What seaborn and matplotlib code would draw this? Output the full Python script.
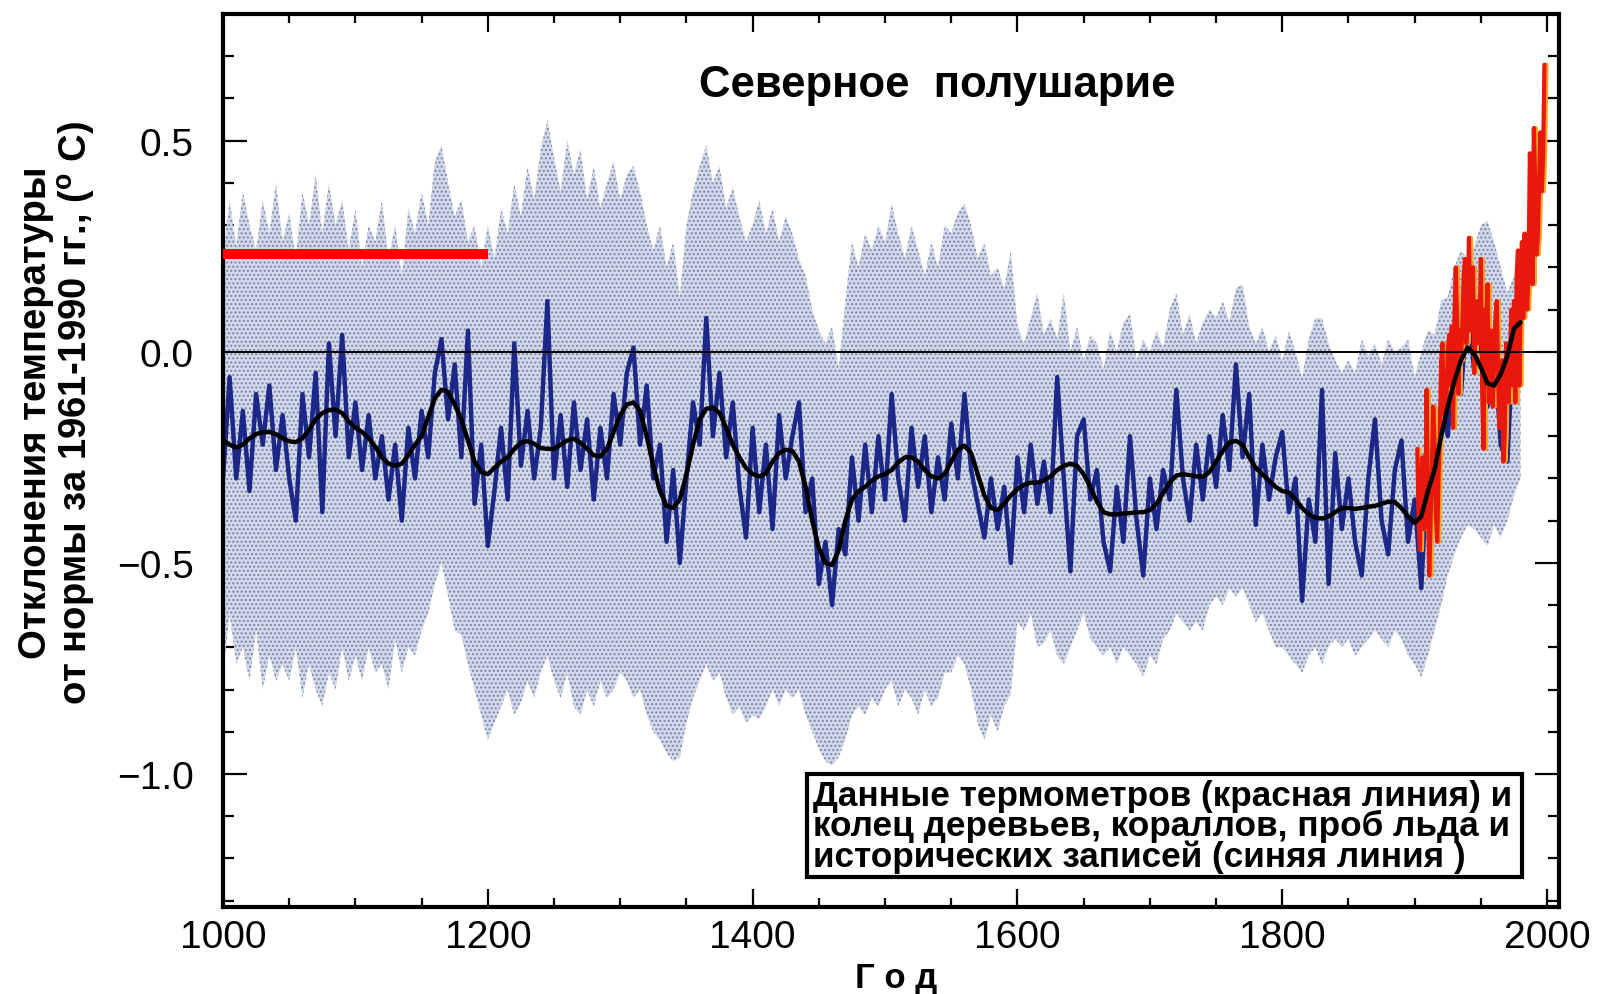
import numpy as np
import pandas as pd
import matplotlib
matplotlib.use("Agg")
import matplotlib.pyplot as plt
import matplotlib.patches as mpatches
import matplotlib.transforms as mtransforms
from matplotlib.ticker import MultipleLocator
import seaborn as sns

# --- данные (читаются с рисунка) ---
# реконструкция, шаг 5 лет, 1000..1980
years5 = np.arange(1000, 1981, 5)

blue = [
    -0.30, -0.06, -0.30, -0.14, -0.33, -0.10, -0.22, -0.08, -0.28, -0.15,
    -0.30, -0.40, -0.10, -0.25, -0.05, -0.38, 0.02, -0.20, 0.04, -0.25,
    -0.12, -0.28, -0.15, -0.30, -0.20, -0.35, -0.22, -0.40, -0.18, -0.30,
    -0.14, -0.25, -0.05, 0.03, -0.16, -0.03, -0.25, 0.05, -0.36, -0.22,
    -0.46, -0.33, -0.18, -0.35, 0.02, -0.27, -0.14, -0.30, -0.18, 0.12,
    -0.30, -0.15, -0.32, -0.12, -0.28, -0.16, -0.35, -0.18, -0.30, -0.10,
    -0.22, -0.05, 0.01, -0.22, -0.08, -0.30, -0.22, -0.45, -0.28, -0.50,
    -0.30, -0.12, -0.22, 0.08, -0.20, -0.05, -0.25, -0.12, -0.32, -0.44,
    -0.18, -0.38, -0.22, -0.42, -0.15, -0.30, -0.20, -0.12, -0.38, -0.30,
    -0.55, -0.45, -0.60, -0.42, -0.48, -0.25, -0.40, -0.22, -0.38, -0.20,
    -0.35, -0.10, -0.30, -0.40, -0.18, -0.32, -0.20, -0.38, -0.25, -0.35,
    -0.17, -0.30, -0.10, -0.28, -0.36, -0.44, -0.30, -0.42, -0.32, -0.50,
    -0.25, -0.38, -0.22, -0.36, -0.26, -0.38, -0.06, -0.30, -0.52, -0.20,
    -0.16, -0.35, -0.28, -0.45, -0.52, -0.32, -0.45, -0.20, -0.40, -0.53,
    -0.30, -0.42, -0.28, -0.35, -0.09, -0.30, -0.40, -0.22, -0.35, -0.20,
    -0.32, -0.15, -0.28, -0.03, -0.25, -0.10, -0.41, -0.22, -0.35, -0.25,
    -0.19, -0.38, -0.30, -0.59, -0.35, -0.45, -0.09, -0.55, -0.24, -0.42,
    -0.30, -0.45, -0.53, -0.30, -0.16, -0.40, -0.48, -0.28, -0.21, -0.45,
    -0.35, -0.56, -0.25, -0.40, -0.12, -0.20, 0.04, -0.10, 0.13, -0.05,
    0.05, -0.13, 0.02, -0.22, -0.26, 0.07, -0.05,
]

smooth = [
    -0.21, -0.22, -0.227, -0.22, -0.205, -0.195, -0.19, -0.19, -0.195, -0.205,
    -0.212, -0.214, -0.205, -0.185, -0.16, -0.145, -0.138, -0.137, -0.145, -0.165,
    -0.18, -0.19, -0.205, -0.225, -0.25, -0.265, -0.27, -0.265, -0.245, -0.22,
    -0.2, -0.155, -0.11, -0.09, -0.095, -0.125, -0.16, -0.21, -0.26, -0.285,
    -0.29, -0.275, -0.26, -0.25, -0.23, -0.215, -0.212, -0.218, -0.228, -0.23,
    -0.23, -0.22, -0.21, -0.206, -0.215, -0.23, -0.245, -0.248, -0.23, -0.19,
    -0.15, -0.125, -0.12, -0.14, -0.2, -0.27, -0.33, -0.365, -0.37, -0.35,
    -0.29, -0.22, -0.16, -0.135, -0.132, -0.145, -0.18, -0.22, -0.25, -0.275,
    -0.29, -0.295, -0.288, -0.26, -0.24, -0.232, -0.235, -0.26, -0.32, -0.4,
    -0.465, -0.5, -0.505, -0.47, -0.4, -0.35, -0.33, -0.32, -0.305, -0.295,
    -0.29, -0.28, -0.262, -0.25, -0.25, -0.26, -0.28, -0.295, -0.3, -0.29,
    -0.26, -0.232, -0.222, -0.24, -0.29, -0.34, -0.37, -0.375, -0.36, -0.34,
    -0.325, -0.315, -0.31, -0.31, -0.305, -0.295, -0.28, -0.27, -0.265, -0.27,
    -0.29, -0.32, -0.355, -0.38, -0.385, -0.385, -0.383, -0.382, -0.38, -0.38,
    -0.375, -0.36, -0.335, -0.31, -0.293, -0.29, -0.292, -0.295, -0.296, -0.285,
    -0.26, -0.235, -0.215, -0.211, -0.22, -0.25, -0.275, -0.29, -0.305, -0.32,
    -0.33, -0.333, -0.35, -0.37, -0.385, -0.393, -0.395, -0.39, -0.38, -0.37,
    -0.37, -0.372, -0.37, -0.367, -0.365, -0.36, -0.355, -0.356, -0.37, -0.39,
    -0.405, -0.39, -0.33, -0.28, -0.2, -0.13, -0.07, -0.02, 0.01, -0.005,
    -0.037, -0.075, -0.08, -0.053, -0.01, 0.055, 0.07,
]

upper = [
    0.22, 0.36, 0.25, 0.38, 0.30, 0.24, 0.36, 0.28, 0.40, 0.26,
    0.33, 0.22, 0.38, 0.30, 0.42, 0.28, 0.40, 0.30, 0.36, 0.24,
    0.34, 0.20, 0.30, 0.26, 0.36, 0.22, 0.30, 0.18, 0.34, 0.28,
    0.38, 0.30, 0.45, 0.49, 0.40, 0.32, 0.36, 0.26, 0.30, 0.20,
    0.30, 0.22, 0.34, 0.28, 0.40, 0.32, 0.44, 0.36, 0.48, 0.55,
    0.46, 0.38, 0.50, 0.42, 0.48, 0.36, 0.44, 0.34, 0.40, 0.45,
    0.36, 0.42, 0.44, 0.38, 0.30, 0.24, 0.30, 0.20, 0.26, 0.13,
    0.30, 0.38, 0.44, 0.49, 0.40, 0.44, 0.34, 0.39, 0.32, 0.26,
    0.30, 0.36, 0.28, 0.34, 0.26, 0.32, 0.28, 0.22, 0.18, 0.10,
    0.05, 0.02, 0.06, -0.04, 0.12, 0.26, 0.20, 0.28, 0.24, 0.30,
    0.26, 0.35, 0.28, 0.22, 0.30, 0.24, 0.18, 0.26, 0.20, 0.30,
    0.28, 0.33, 0.35, 0.30, 0.22, 0.26, 0.18, 0.20, 0.15, 0.24,
    0.06, 0.02, 0.08, 0.14, 0.04, 0.08, 0.03, 0.14, 0.00, 0.06,
    -0.02, 0.04, 0.02, -0.04, 0.05, 0.00, 0.07, 0.09, -0.02, 0.03,
    0.00, 0.05, 0.01, 0.10, 0.14, 0.04, 0.09, 0.02, 0.07, 0.10,
    0.08, 0.12, 0.07, 0.15, 0.16, 0.06, 0.02, 0.06, 0.00, 0.04,
    -0.02, 0.05, 0.00, -0.06, 0.03, 0.08, 0.08, 0.02, -0.02, -0.05,
    -0.02, -0.05, 0.03, -0.01, 0.02, -0.03, 0.03, 0.00, 0.01, 0.03,
    -0.06, 0.00, 0.05, 0.04, 0.12, 0.13, 0.20, 0.24, 0.22, 0.25,
    0.30, 0.31, 0.26, 0.20, 0.14, 0.18, 0.10,
]

lower = [
    -0.76, -0.62, -0.74, -0.70, -0.78, -0.66, -0.80, -0.72, -0.78, -0.74,
    -0.78, -0.70, -0.82, -0.74, -0.80, -0.84, -0.76, -0.80, -0.70, -0.78,
    -0.72, -0.78, -0.70, -0.76, -0.74, -0.80, -0.68, -0.76, -0.70, -0.72,
    -0.66, -0.62, -0.55, -0.50, -0.58, -0.66, -0.67, -0.74, -0.80, -0.86,
    -0.92, -0.88, -0.84, -0.80, -0.86, -0.83, -0.78, -0.82, -0.76, -0.72,
    -0.78, -0.82, -0.76, -0.84, -0.86, -0.80, -0.84, -0.78, -0.82, -0.80,
    -0.76, -0.78, -0.82, -0.80, -0.86, -0.90, -0.92, -0.95, -0.97, -0.96,
    -0.88, -0.82, -0.78, -0.74, -0.78, -0.76, -0.82, -0.86, -0.84, -0.88,
    -0.86, -0.87, -0.84, -0.80, -0.84, -0.80, -0.82, -0.80, -0.86, -0.90,
    -0.94, -0.97, -0.98, -0.96, -0.92, -0.86, -0.84, -0.86, -0.82, -0.84,
    -0.80, -0.78, -0.84, -0.80, -0.82, -0.86, -0.80, -0.84, -0.82, -0.76,
    -0.76, -0.72, -0.74, -0.80, -0.88, -0.92, -0.86, -0.90, -0.84, -0.81,
    -0.64, -0.66, -0.62, -0.70, -0.69, -0.66, -0.72, -0.74, -0.70, -0.66,
    -0.62, -0.68, -0.70, -0.72, -0.70, -0.74, -0.70, -0.72, -0.74, -0.77,
    -0.72, -0.74, -0.68, -0.66, -0.62, -0.64, -0.66, -0.64, -0.66, -0.60,
    -0.58, -0.60, -0.56, -0.58, -0.56, -0.60, -0.64, -0.62, -0.66, -0.70,
    -0.70, -0.72, -0.74, -0.76, -0.72, -0.70, -0.74, -0.70, -0.68, -0.70,
    -0.68, -0.72, -0.70, -0.68, -0.66, -0.68, -0.70, -0.66, -0.68, -0.72,
    -0.74, -0.77, -0.72, -0.66, -0.60, -0.53, -0.48, -0.44, -0.41, -0.42,
    -0.44, -0.46, -0.41, -0.44, -0.40, -0.34, -0.30,
]

# термометры, годовые значения 1902..1998
years_thermo = np.arange(1902, 1999)
thermo = [
    -0.23, -0.40, -0.47, -0.30, -0.25, -0.42, -0.38, -0.09, -0.35, -0.53,
    -0.40, -0.28, -0.13, -0.22, -0.38, -0.45, -0.30, -0.20, -0.02, 0.02,
    -0.15, -0.08, -0.12, 0.00, 0.04, -0.08, 0.06, -0.18, 0.08, 0.20,
    0.08, -0.10, 0.05, -0.02, 0.06, 0.18, 0.22, 0.02, 0.10, 0.27,
    0.05, 0.12, 0.20, -0.05, 0.08, 0.12, 0.02, 0.06, 0.22, -0.10,
    -0.23, 0.10, 0.05, 0.16, -0.12, 0.02, 0.05, -0.13, -0.02, 0.08,
    0.12, -0.05, -0.18, -0.10, -0.02, -0.26, -0.20, 0.02, -0.04, -0.12,
    0.00, 0.10, -0.08, 0.12, -0.12, 0.18, 0.24, -0.08, 0.12, 0.26,
    0.08, 0.28, 0.14, 0.10, 0.20, 0.47, 0.36, 0.16, 0.53, 0.40,
    0.23, 0.27, 0.40, 0.52, 0.38, 0.46, 0.68,
]

# красная отметка поверх графика
mark_years = [1000, 1200]
mark_level = 0.232

title = "Северное  полушарие"
ylabel = "Отклонения температуры\nот нормы за 1961-1990 гг., ($^{\\mathrm{o}}$ C)"
xlabel = "Г о д"
note = ("Данные термометров (красная линия) и\n"
        "колец деревьев, кораллов, проб льда и\n"
        "исторических записей (синяя линия )")

recon = pd.DataFrame({"year": years5, "blue": blue, "smooth": smooth,
                      "upper": upper, "lower": lower})
instr = pd.DataFrame({"year": years_thermo, "temp": thermo})

sns.set_theme(style="ticks")
plt.rcParams["font.family"] = ["Liberation Sans", "DejaVu Sans"]
plt.rcParams["mathtext.fontset"] = "custom"
plt.rcParams["mathtext.rm"] = "Liberation Sans:bold"
plt.rcParams["hatch.linewidth"] = 1.0
for key in ["text.color", "axes.labelcolor", "xtick.color", "ytick.color",
            "axes.edgecolor"]:
    plt.rcParams[key] = "black"

fig = plt.figure(figsize=(16, 9.95), dpi=100)
ax = fig.add_axes([223 / 1600, 1 - 908 / 995, (1559 - 223) / 1600, (908 - 15) / 995])

# полоса неопределённости (точечная растровая заливка)
ax.fill_between(recon["year"], recon["lower"], recon["upper"],
                facecolor="#d2d9ec", edgecolor="#7d869e", hatch="....",
                linewidth=0, zorder=1)

sns.lineplot(data=recon, x="year", y="blue", ax=ax, color="#1c2787",
             linewidth=3.2, estimator=None, zorder=2)

# термометры: красная линия с оранжевой каймой
shift = mtransforms.offset_copy(ax.transData, fig=fig, x=2, y=0, units="dots")
ax.plot(instr["year"], instr["temp"], color="#f6a623", linewidth=3.0,
        transform=shift, zorder=3)
sns.lineplot(data=instr, x="year", y="temp", ax=ax, color="#e8180c",
             linewidth=3.0, estimator=None, zorder=4)

sns.lineplot(data=recon, x="year", y="smooth", ax=ax, color="black",
             linewidth=3.2, estimator=None, zorder=5)

ax.axhline(0, color="black", linewidth=1.4, zorder=6)
ax.hlines(mark_level, mark_years[0], mark_years[1], color="#ff0000",
          linewidth=7.2, zorder=7, clip_on=False)

ax.set_xlim(1000, 2009)
ax.set_ylim(-1.315, 0.80)
ax.xaxis.set_minor_locator(MultipleLocator(50))
ax.yaxis.set_minor_locator(MultipleLocator(0.1))
ax.set_yticks([-1.0, -0.5, 0.0, 0.5])
ax.set_xticks([1000, 1200, 1400, 1600, 1800, 2000])

ax.tick_params(which="both", direction="in", top=True, right=True,
               colors="black", width=1.6, labelsize=28)
ax.tick_params(axis="y", which="major", length=17, pad=21)
ax.tick_params(axis="y", which="minor", length=8)
ax.tick_params(axis="x", which="major", length=13, pad=9)
ax.tick_params(axis="x", which="minor", length=6.5)
for s in ax.spines.values():
    s.set_linewidth(3)
    s.set_color("black")

ax.set_xlabel("")
ax.set_ylabel("")

fig.text(937 / 1600, 1 - 86 / 995, title, ha="center", va="center",
         fontsize=31.5, fontweight="bold")
fig.text(896 / 1600, 1 - 979 / 995, xlabel, ha="center", va="center",
         fontsize=25, fontweight="bold")
fig.text(58 / 1600, 1 - 413 / 995, ylabel, ha="center", va="center",
         rotation=90, fontsize=27.5, fontweight="bold", linespacing=1.08,
         multialignment="center")

# рамка с пояснением
box = mpatches.Rectangle((807 / 1600, 1 - 878 / 995), (1522 - 807) / 1600,
                         (878 - 775) / 995, transform=fig.transFigure,
                         facecolor="white", edgecolor="black", linewidth=3,
                         zorder=10)
fig.patches.append(box)
fig.text(813 / 1600, 1 - 827 / 995, note, ha="left", va="center",
         fontsize=25.3, fontweight="bold", linespacing=0.88, zorder=11)

fig.savefig("out.png", dpi=100)
